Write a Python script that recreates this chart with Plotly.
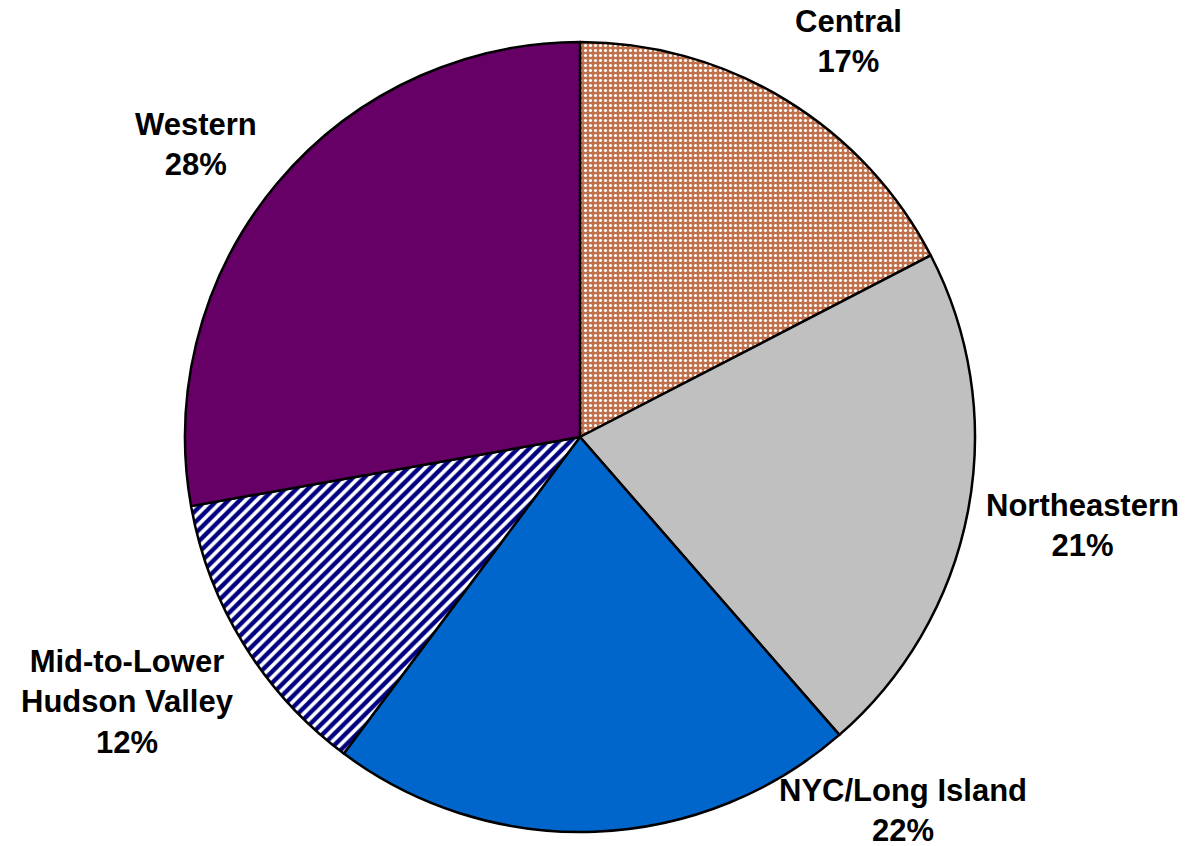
import plotly.graph_objects as go

# Data
regions = ["Central", "Northeastern", "NYC/Long Island", "Mid-to-Lower Hudson Valley", "Western"]
label_lines = ["Central", "Northeastern", "NYC/Long Island", "Mid-to-Lower<br>Hudson Valley", "Western"]
shares = [17.4, 21.2, 21.6, 12.0, 27.8]
pct_labels = [17, 21, 22, 12, 28]

# Styles
colors = ["#C0704A", "#C0C0C0", "#0066CC", "#FFFFFF", "#660066"]
pat_shapes = [".", "", "", "/", ""]
pat_fg = ["#FFFFFF", "#000000", "#000000", "#000080", "#000000"]
label_pos = [(848, 42), (1082, 525), (903, 810), (127, 702), (196, 144)]

W, H = 1188, 846
OFF = 8  # page body margin
cx, cy, r = 580 - OFF, 437 - OFF, 395

fig = go.Figure(go.Pie(
    labels=regions,
    values=shares,
    sort=False,
    direction="clockwise",
    rotation=0,
    textinfo="none",
    hoverinfo="skip",
    showlegend=False,
    domain=dict(x=[(cx - r) / W, (cx + r) / W], y=[1 - (cy + r) / H, 1 - (cy - r) / H]),
    marker=dict(
        colors=colors,
        line=dict(color="black", width=2.5),
        pattern=dict(shape=pat_shapes, fgcolor=pat_fg, fillmode="overlay", fgopacity=1,
                     size=[5, 8, 8, 8, 8], solidity=[0.3, 0.5, 0.5, 0.55, 0.5]),
    ),
))

for name, pct, (px, py) in zip(label_lines, pct_labels, label_pos):
    fig.add_annotation(
        x=(px - OFF) / W, y=1 - (py - OFF) / H, xref="paper", yref="paper",
        text=f"<b>{name}</b><br><b>{pct}%</b>",
        showarrow=False, xanchor="center", yanchor="middle",
        font=dict(family="Liberation Sans, Arial, sans-serif", size=31, color="black"),
        align="center",
    )

fig.update_layout(
    width=W, height=H,
    margin=dict(l=0, r=0, t=0, b=0),
    paper_bgcolor="white", plot_bgcolor="white",
)

fig.write_html("out.html")
